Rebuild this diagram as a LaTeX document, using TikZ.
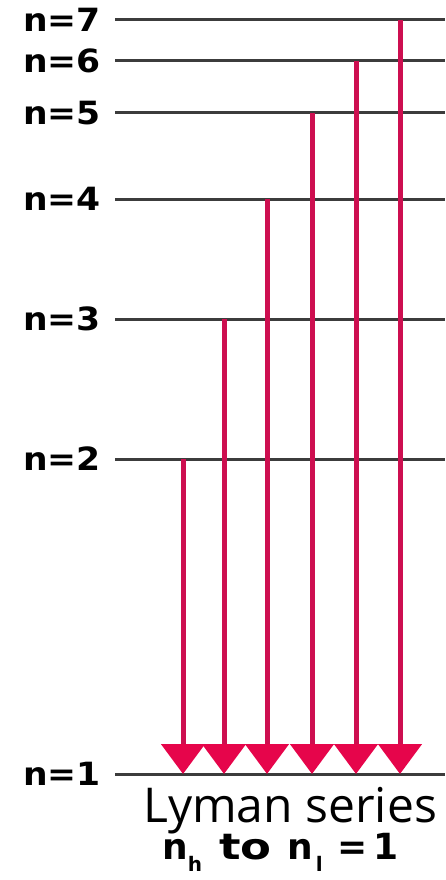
\documentclass[tikz,border=0pt]{standalone}
\usepackage{fontspec}
\usepackage{graphicx}
\setmainfont{Open Sans}
\newfontfamily\labfont{DejaVu Sans}
\usetikzlibrary{arrows.meta}
\definecolor{lvl}{RGB}{60,60,60}
\definecolor{tr}{RGB}{205,15,80}
\definecolor{trhead}{RGB}{230,5,75}
\newcommand{\subtxt}[1]{\raisebox{-12pt}{\fontsize{20}{20}\selectfont #1}}
\tikzset{
  level/.style={draw=lvl, line width=3pt},
  lab/.style={anchor=east, inner sep=0pt, font=\labfont\fontsize{32}{32}\selectfont\bfseries},
  trans/.style={draw=tr, line width=5pt, -{Triangle[width=43pt,length=30pt,color=trhead]}},
}
\begin{document}
\begin{tikzpicture}[x=1pt,y=-1pt]
\useasboundingbox (0,0) rectangle (445,880);
% level lines
\foreach \n/\y in {1/774,2/459,3/319,4/199,5/113,6/61,7/20}{
  \coordinate (L\n a) at (115,\y);
  \coordinate (L\n b) at (445,\y);
  \draw[level] (L\n a) -- (L\n b);
  \node[lab] (T\n) at (101,\y) {\scalebox{1.08}[1]{n=\n}};
}
% transitions
\foreach \n/\x in {2/183,3/224,4/267,5/312,6/356,7/400}{
  \coordinate (S\n) at (\x,0 |- L\n a);
  \coordinate (E\n) at (\x,0 |- L1a);
  \draw[trans] (S\n) -- (E\n);
}
\node[inner sep=0pt, anchor=base west, font=\fontsize{48}{48}\selectfont] (ly) at (143,822) {Lyman series};
\node[inner sep=0pt, anchor=base west, font=\labfont\fontsize{36}{36}\selectfont\bfseries] (nh) at (162,859)
  {\makebox[57pt][l]{n\subtxt{h}}\makebox[68pt][l]{\scalebox{1.25}[1]{to}}\makebox[50pt][l]{n\hspace{3pt}\subtxt{l}}\makebox[36pt][l]{=}1};
\end{tikzpicture}
\end{document}
